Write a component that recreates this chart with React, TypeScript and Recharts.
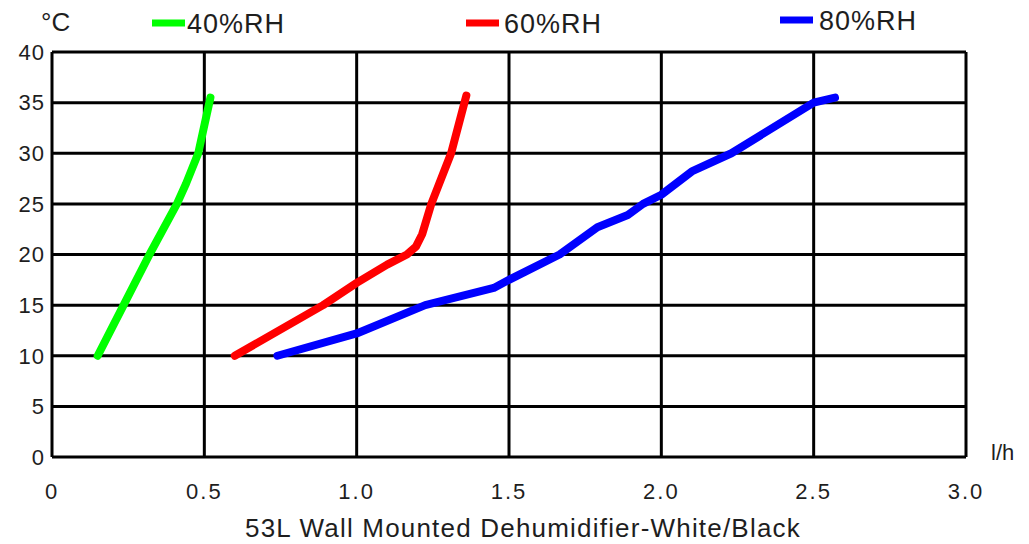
import { LineChart, Line, XAxis, YAxis, CartesianGrid } from 'recharts';

const xTicks = [0, 0.5, 1.0, 1.5, 2.0, 2.5, 3.0];
const yTicks = [0, 5, 10, 15, 20, 25, 30, 35, 40];

// l/h vs °C
const rh40 = [
  { x: 0.15, y: 10 },
  { x: 0.235, y: 15 },
  { x: 0.32, y: 20 },
  { x: 0.41, y: 25 },
  { x: 0.44, y: 27 },
  { x: 0.48, y: 30 },
  { x: 0.52, y: 35.5 },
];
const rh60 = [
  { x: 0.6, y: 10 },
  { x: 0.89, y: 15 },
  { x: 1.0, y: 17.2 },
  { x: 1.1, y: 19.0 },
  { x: 1.165, y: 20.0 },
  { x: 1.195, y: 20.8 },
  { x: 1.215, y: 22.0 },
  { x: 1.245, y: 25 },
  { x: 1.31, y: 30 },
  { x: 1.36, y: 35.7 },
];
const rh80 = [
  { x: 0.74, y: 10 },
  { x: 1.0, y: 12.2 },
  { x: 1.225, y: 15 },
  { x: 1.45, y: 16.7 },
  { x: 1.5, y: 17.5 },
  { x: 1.666, y: 20 },
  { x: 1.79, y: 22.7 },
  { x: 1.89, y: 23.9 },
  { x: 1.94, y: 25 },
  { x: 2.0, y: 25.9 },
  { x: 2.1, y: 28.2 },
  { x: 2.23, y: 30 },
  { x: 2.5, y: 35 },
  { x: 2.57, y: 35.5 },
];

const series = [
  { name: '40%RH', color: '#00ff00', data: rh40 },
  { name: '60%RH', color: '#ff0000', data: rh60 },
  { name: '80%RH', color: '#0000ff', data: rh80 },
];

const font = 'Liberation Sans, Arial, sans-serif';
const ink = '#1e1e1e';

// legend placement (line start, text start, vertical centre)
const legendPos = [
  { lx: 152, tx: 187, cy: 23 },
  { lx: 466, tx: 504, cy: 23 },
  { lx: 780, tx: 819, cy: 20 },
];

export default function App() {
  const fmtX = (v: number) => (v === 0 ? '0' : v.toFixed(1));
  return (
    <div style={{ position: 'absolute', left: 0, top: 0, width: 1029, height: 544, background: '#fff' }}>
      <LineChart
        width={1029}
        height={544}
        margin={{ top: 52, right: 63, bottom: 47, left: 12 }}
      >
        <CartesianGrid stroke="#000" strokeWidth={3} />
        <XAxis
          type="number"
          dataKey="x"
          domain={[0, 3]}
          ticks={xTicks}
          tickFormatter={fmtX}
          axisLine={false}
          tickLine={false}
          tickSize={0}
          tickMargin={26}
          height={40}
          tick={{ fontSize: 22, fill: ink, fontFamily: font, letterSpacing: 2 }}
        />
        <YAxis
          type="number"
          dataKey="y"
          domain={[0, 40]}
          ticks={yTicks}
          axisLine={false}
          tickLine={false}
          tickSize={0}
          tickMargin={7}
          width={40}
          tick={{ fontSize: 22, fill: ink, fontFamily: font, letterSpacing: 1 }}
        />
        {series.map((s) => (
          <Line
            key={s.name}
            data={s.data}
            dataKey="y"
            type="linear"
            stroke={s.color}
            strokeWidth={8}
            strokeLinecap="round"
            strokeLinejoin="round"
            dot={false}
            activeDot={false}
            isAnimationActive={false}
          />
        ))}
      </LineChart>
      <svg
        width={1029}
        height={544}
        style={{ position: 'absolute', left: 0, top: 0, pointerEvents: 'none' }}
      >
        <text x={41} y={31} fontSize={26} fill={ink} fontFamily={font}>°C</text>
        {series.map((s, i) => (
          <g key={s.name}>
            <line
              x1={legendPos[i].lx}
              x2={legendPos[i].lx + 33}
              y1={legendPos[i].cy}
              y2={legendPos[i].cy}
              stroke={s.color}
              strokeWidth={7}
            />
            <text
              x={legendPos[i].tx}
              y={legendPos[i].cy + 9.5}
              fontSize={27}
              fill={ink}
              fontFamily={font}
              letterSpacing={1}
            >
              {s.name}
            </text>
          </g>
        ))}
        <text x={991} y={460} fontSize={22} fill={ink} fontFamily={font}>l/h</text>
        <text
          x={523}
          y={537}
          fontSize={26}
          fill={ink}
          fontFamily={font}
          textAnchor="middle"
          letterSpacing={1.2}
        >
          53L Wall Mounted Dehumidifier-White/Black
        </text>
      </svg>
    </div>
  );
}
